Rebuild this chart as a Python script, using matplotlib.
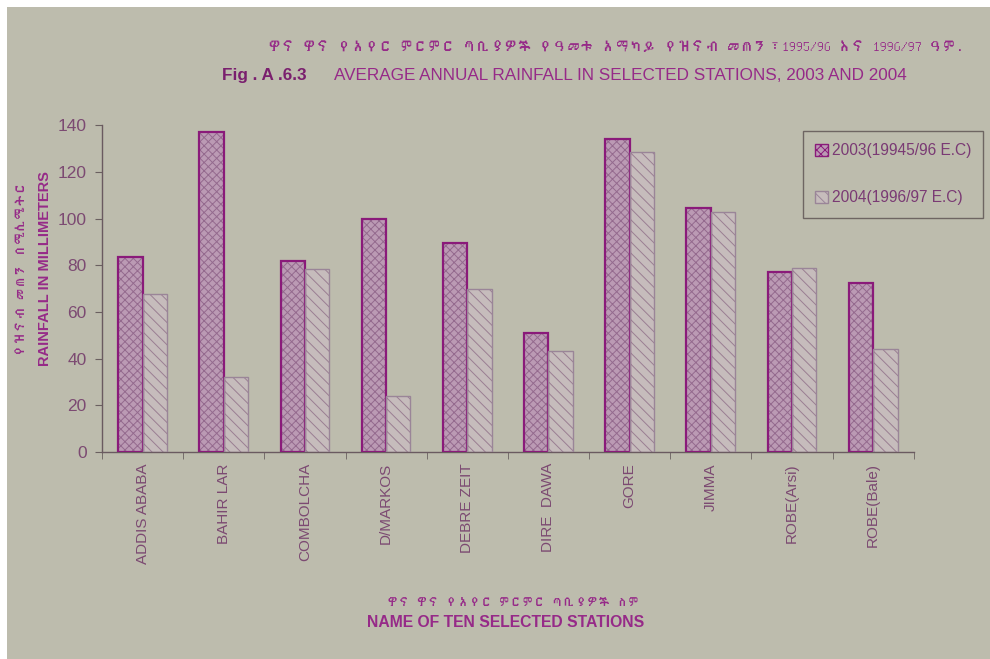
import matplotlib
matplotlib.use("Agg")
import matplotlib.pyplot as plt
import numpy as np
from matplotlib.patches import Patch, Rectangle
from matplotlib import font_manager
from matplotlib.ft2font import FT2Font

# ---------------- data ----------------
stations = ["ADDIS ABABA", "BAHIR LAR", "COMBOLCHA", "D/MARKOS", "DEBRE ZEIT",
            "DIRE  DAWA", "GORE", "JIMMA", "ROBE(Arsi)", "ROBE(Bale)"]
rain_2003 = [83.5, 137, 82, 100, 89.5, 51, 134, 104.5, 77, 72.5]
rain_2004 = [67.5, 32, 78.5, 24, 70, 43.5, 128.5, 103, 79, 44]
series_labels = ["2003(19945/96 E.C)", "2004(1996/97 E.C)"]
yticks = [0, 20, 40, 60, 80, 100, 120, 140]

title_am = "ዋና ዋና የአየር ምርምር ጣቢያዎች የዓመቱ አማካይ የዝናብ መጠን፣1995/96 እና 1996/97 ዓም."
title_en_fig = "Fig . A .6.3"
title_en = "AVERAGE ANNUAL RAINFALL IN SELECTED STATIONS, 2003 AND 2004"
ylabel_am = "የዝናብ መጠን በሚሊሜትር"
ylabel_en = "RAINFALL IN MILLIMETERS"
xlabel_am = "ዋና ዋና የአየር ምርምር ጣቢያዎች ስም"
xlabel_en = "NAME OF TEN SELECTED STATIONS"

# ---------------- fonts ----------------
def find_family_with(char):
    code = ord(char)
    for f in font_manager.fontManager.ttflist:
        try:
            ft = FT2Font(f.fname)
            if code in ft.get_charmap():
                return f.name
        except Exception:
            continue
    return None

eth = find_family_with("ዋ")
am_family = ([eth] if eth else []) + ["DejaVu Sans"]
plt.rcParams["font.family"] = ["Liberation Sans", "DejaVu Sans"]
plt.rcParams["hatch.linewidth"] = 0.7

paper = "#bdbcad"
mag = "#962a88"
tickcol = "#7c4a72"

fig = plt.figure(figsize=(9.9, 6.59), dpi=100, facecolor="white")
fig.patches.append(Rectangle((0.007, 0.0), 0.993, 0.99, transform=fig.transFigure,
                             facecolor=paper, edgecolor="none", zorder=-10))
ax = fig.add_axes([0.103, 0.314, 0.820, 0.496])
ax.set_facecolor("none")

x = np.arange(len(stations))
w = 0.30
# 2003 bars: fill + crosshatch, then outline
ax.bar(x - w / 2, rain_2003, w, color="#bb9ab4", edgecolor="#946a8e", hatch="xxxx",
       linewidth=0, zorder=2)
ax.bar(x - w / 2, rain_2003, w, color="none", edgecolor="#8a1a7a", linewidth=1.6, zorder=3)
# 2004 bars
ax.bar(x + w / 2, rain_2004, w, color="#c6bcbc", edgecolor="#9a7e92", hatch="\\\\\\",
       linewidth=0, zorder=2)
ax.bar(x + w / 2, rain_2004, w, color="none", edgecolor="#9a8598", linewidth=1.0, zorder=3)

ax.set_xlim(-0.5, len(stations) - 0.5)
ax.set_ylim(0, 140)
ax.set_yticks(yticks)
ax.set_yticklabels([str(v) for v in yticks], fontsize=12.5, color=tickcol)
ax.set_xticks(x)
ax.set_xticklabels(stations, rotation=90, fontsize=11, color=tickcol, va="top")
ax.tick_params(axis="x", length=0, pad=8)
ax.set_xticks(np.arange(-0.5, len(stations)), minor=True)
ax.tick_params(axis="x", which="minor", length=5, color="#6a6060", direction="out")
ax.tick_params(axis="y", length=5, color="#6a6060", direction="out", pad=6)
for s in ["top", "right"]:
    ax.spines[s].set_visible(False)
for s in ["left", "bottom"]:
    ax.spines[s].set_color("#6a5a60")
    ax.spines[s].set_linewidth(1.0)

# titles
fig.text(0.622, 0.928, title_am, ha="center", va="center", fontsize=10, color=mag,
         family=am_family, fontweight="bold")
fig.text(0.224, 0.886, title_en_fig, ha="left", va="center", fontsize=12.3, color="#7a1f6e",
         fontweight="bold")
fig.text(0.337, 0.886, title_en, ha="left", va="center", fontsize=12.3, color=mag)

# y labels
fig.text(0.021, 0.593, ylabel_am, rotation=90, ha="center", va="center", fontsize=9,
         color=mag, family=am_family, fontweight="bold")
fig.text(0.045, 0.593, ylabel_en, rotation=90, ha="center", va="center", fontsize=10.5,
         color=mag, fontweight="bold")

# x labels
fig.text(0.519, 0.085, xlabel_am, ha="center", va="center", fontsize=8.5, color=mag,
         family=am_family, fontweight="bold")
fig.text(0.511, 0.056, xlabel_en, ha="center", va="center", fontsize=11.3, color=mag,
         fontweight="bold")

# legend
handles = [Patch(facecolor="#bb9ab4", edgecolor="#8a1a7a", hatch="xxxx", linewidth=1.0),
           Patch(facecolor="#c6bcbc", edgecolor="#9a8598", hatch="\\\\\\", linewidth=1.0)]
leg = fig.legend(handles, series_labels, loc="upper left",
                 bbox_to_anchor=(0.811, 1 - 131 / 659), frameon=True, fancybox=False,
                 fontsize=11.2, handlelength=0.8, handleheight=0.8, handletextpad=0.25,
                 labelspacing=2.05, borderpad=0.8, borderaxespad=0)
leg.get_frame().set_facecolor("none")
leg.get_frame().set_edgecolor("#5a5050")
leg.get_frame().set_linewidth(1.0)
for t in leg.get_texts():
    t.set_color("#7a3a74")

fig.savefig("out.png", dpi=100, facecolor=fig.get_facecolor())
